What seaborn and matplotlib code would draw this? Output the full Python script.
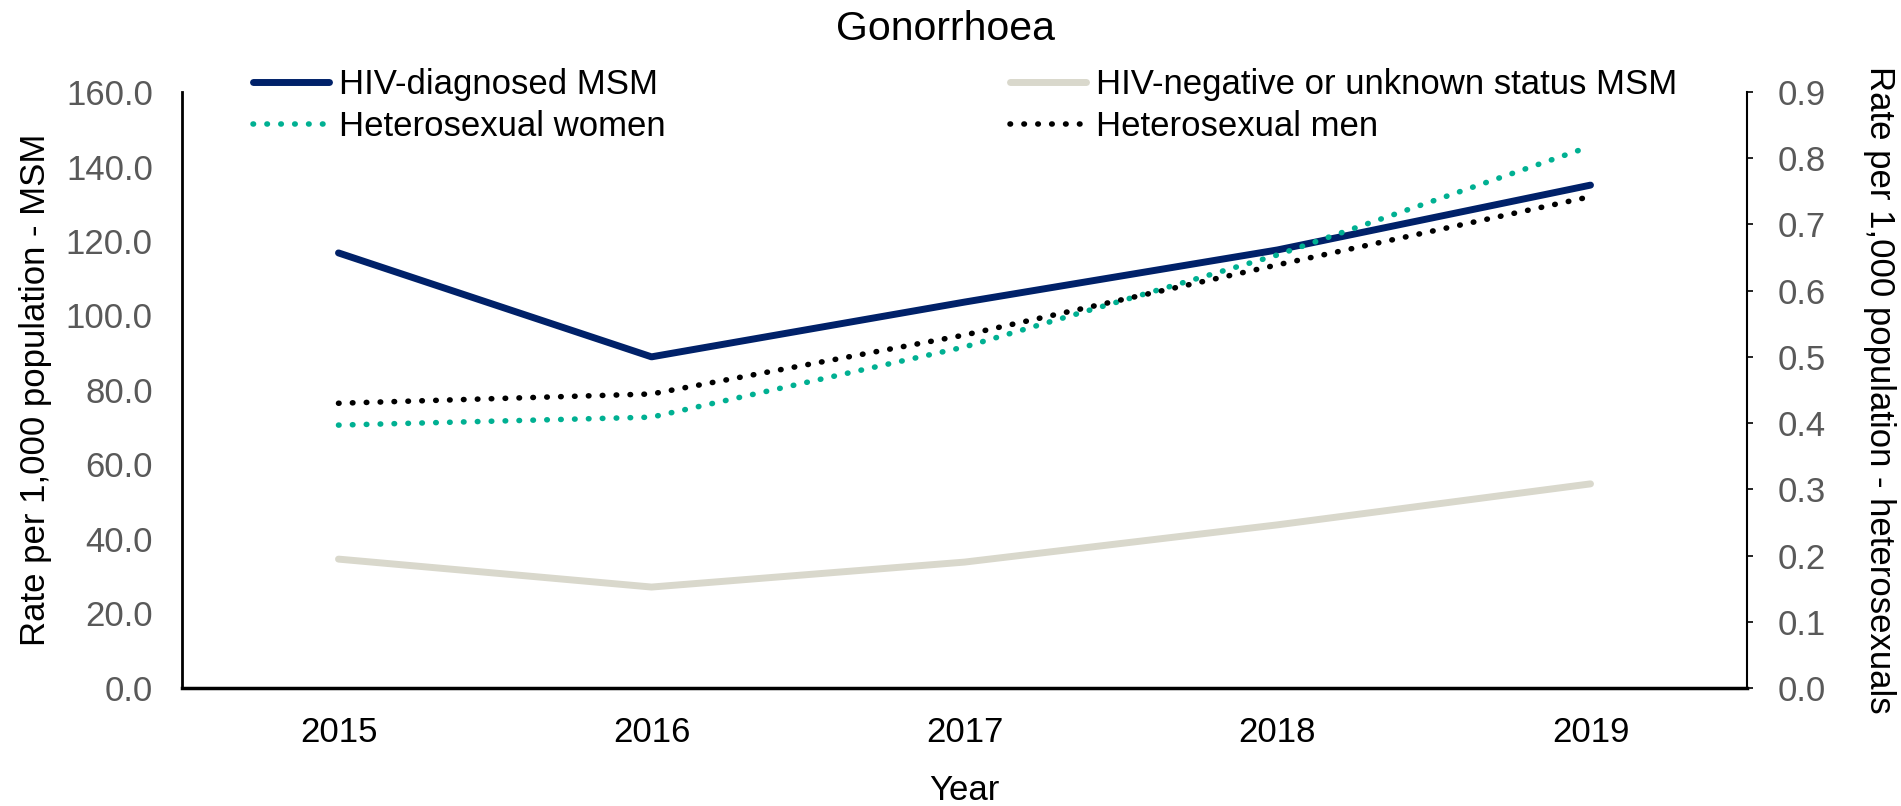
import pandas as pd
import matplotlib.pyplot as plt
import seaborn as sns

# Values
years = ["2015", "2016", "2017", "2018", "2019"]
hiv_diagnosed_msm = [116.8, 88.9, 103.6, 117.6, 135.0]
hiv_negative_msm = [34.6, 27.1, 33.8, 43.8, 54.8]
hetero_women = [0.397, 0.409, 0.515, 0.654, 0.818]
hetero_men = [0.430, 0.444, 0.533, 0.639, 0.742]

msm_ticks = [0, 20, 40, 60, 80, 100, 120, 140, 160]
het_ticks = [0.0, 0.1, 0.2, 0.3, 0.4, 0.5, 0.6, 0.7, 0.8, 0.9]

NAVY = "#002169"
BEIGE = "#D9D8CC"
TEAL = "#00B092"
GREY = "#595959"
FS = 25


def draw():
    sns.set_theme(style="white")
    plt.rcParams['font.family'] = ['Liberation Sans', 'DejaVu Sans']
    plt.rcParams['text.color'] = 'black'
    plt.rcParams['axes.labelcolor'] = 'black'

    msm = pd.DataFrame({"Year": years, "diag": hiv_diagnosed_msm, "neg": hiv_negative_msm})
    het = pd.DataFrame({"Year": years, "women": hetero_women, "men": hetero_men})

    fig = plt.figure(figsize=(19.01, 8.06), dpi=100)
    ax = fig.add_axes([182 / 1901, 1 - 688 / 806, (1747 - 182) / 1901, (688 - 92) / 806])
    ax2 = ax.twinx()

    sns.lineplot(data=msm, x="Year", y="diag", ax=ax, color=NAVY, lw=5,
                 label="HIV-diagnosed MSM", legend=False, solid_capstyle="round")
    sns.lineplot(data=msm, x="Year", y="neg", ax=ax, color=BEIGE, lw=5,
                 label="HIV-negative or unknown status MSM", legend=False, solid_capstyle="round")
    sns.lineplot(data=het, x="Year", y="women", ax=ax2, color=TEAL, lw=4,
                 label="Heterosexual women", legend=False)
    sns.lineplot(data=het, x="Year", y="men", ax=ax2, color="black", lw=4,
                 label="Heterosexual men", legend=False)
    for ln in ax2.get_lines():
        ln.set_linestyle((0, (0.1, 2.4)))
        ln.set_dash_capstyle("round")

    ax.set_xlim(-0.5, 4.5)
    ax.set_ylim(0, 160)
    ax2.set_ylim(0, 0.9)
    ax.set_yticks(msm_ticks)
    ax.set_yticklabels([f"{v:.1f}" for v in msm_ticks])
    ax2.set_yticks(het_ticks)
    ax2.set_yticklabels([f"{v:.1f}" for v in het_ticks])

    ax.tick_params(axis="y", labelsize=FS, labelcolor=GREY, length=0, pad=21)
    ax.tick_params(axis="x", labelsize=FS, labelcolor="black", length=0, pad=20)
    ax2.tick_params(axis="y", labelsize=FS, labelcolor=GREY, length=4, width=1.2,
                    color="black", direction="out", pad=18)

    for side in ["top", "right"]:
        ax.spines[side].set_visible(False)
    for side in ["top", "left", "bottom"]:
        ax2.spines[side].set_visible(False)
    ax.spines["left"].set_color("black")
    ax.spines["left"].set_linewidth(2)
    ax.spines["bottom"].set_color("black")
    ax.spines["bottom"].set_linewidth(2.5)
    ax2.spines["right"].set_color("black")
    ax2.spines["right"].set_linewidth(1.5)
    ax2.spines["right"].set_linestyle((0, (1, 1)))

    ax.set_xlabel("Year", fontsize=FS, labelpad=18)
    ax.set_ylabel("Rate per 1,000 population - MSM", fontsize=FS, labelpad=10)
    ax2.set_ylabel("Rate per 1,000 population - heterosexuals", fontsize=FS,
                   rotation=270, va="bottom", labelpad=27)

    fig.text(945 / 1901, 1 - 29 / 806, "Gonorrhoea", ha="center", va="center", fontsize=29.5)

    h1, l1 = ax.get_legend_handles_labels()
    h2, l2 = ax2.get_legend_handles_labels()
    handles = [h1[0], h2[0], h1[1], h2[1]]
    labels = [l1[0], l2[0], l1[1], l2[1]]
    fig.legend(handles, labels, loc="upper left", bbox_to_anchor=(253 / 1901, 1 - 68 / 806),
               ncol=2, frameon=False, fontsize=FS, handlelength=2.2, handletextpad=0.29,
               columnspacing=9.9, labelspacing=0.25, borderpad=0, borderaxespad=0)

    fig.savefig("out.png", dpi=100)
    plt.close(fig)


if __name__ == "__main__":
    draw()
